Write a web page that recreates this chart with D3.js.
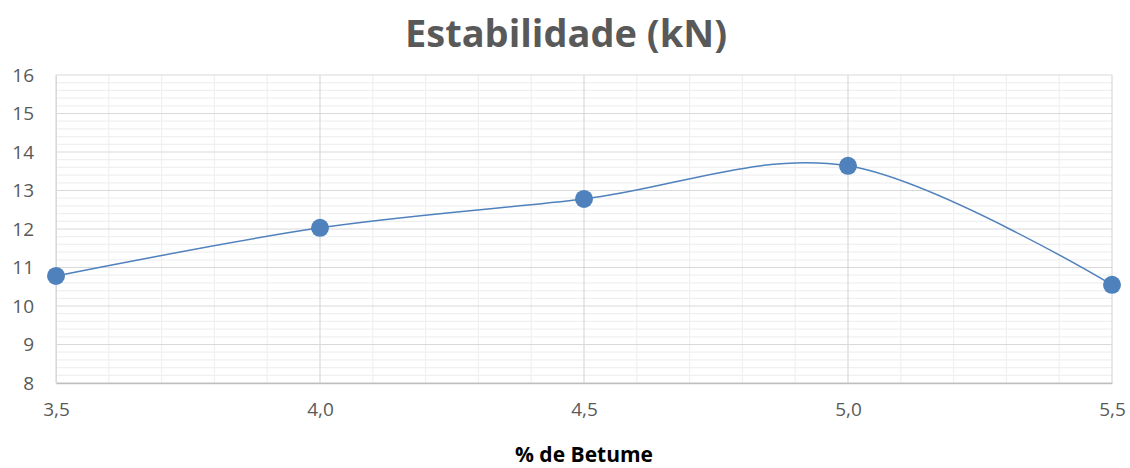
<!DOCTYPE html>
<html>
<head>
<meta charset="utf-8">
<script src="https://cdn.jsdelivr.net/npm/d3@7"></script>
<style>
  html, body { margin: 0; padding: 0; background: #fff; }
  svg { display: block; }
  svg text { font-family: "Open Sans", "Liberation Sans", sans-serif; }
</style>
</head>
<body>
<svg id="chart" width="1130" height="468"></svg>
<script>
// Bitumen content (%) and Marshall stability (kN)
const betume = [3.5, 4.0, 4.5, 5.0, 5.5];
const estabilidade = [10.78, 12.03, 12.78, 13.64, 10.55];
const xTicks = [3.5, 4.0, 4.5, 5.0, 5.5];
const yTicks = [8, 9, 10, 11, 12, 13, 14, 15, 16];

const svg = d3.select("#chart");
const margin = { left: 56, right: 18, top: 75, bottom: 85 };
const W = 1130, H = 468;

const x = d3.scaleLinear().domain([3.5, 5.5]).range([margin.left, W - margin.right]);
const y = d3.scaleLinear().domain([8, 16]).range([H - margin.bottom, margin.top]);

const grid = svg.append("g");

// minor gridlines
const xMinor = d3.range(35, 56, 1).map(v => v / 10).filter(v => Math.round(v * 10) % 5 !== 0);
const yMinor = d3.range(40, 81, 1).map(v => v / 5).filter(v => Math.round(v * 5) % 5 !== 0);
grid.selectAll(".xm").data(xMinor).join("line")
  .attr("x1", d => x(d)).attr("x2", d => x(d))
  .attr("y1", y(8)).attr("y2", y(16))
  .attr("stroke", "#f0f0f0").attr("stroke-width", 1.2);
grid.selectAll(".ym").data(yMinor).join("line")
  .attr("x1", x(3.5)).attr("x2", x(5.5))
  .attr("y1", d => y(d)).attr("y2", d => y(d))
  .attr("stroke", "#f0f0f0").attr("stroke-width", 1.2);

// major gridlines
grid.selectAll(".xM").data(xTicks).join("line")
  .attr("x1", d => x(d)).attr("x2", d => x(d))
  .attr("y1", y(8)).attr("y2", y(16))
  .attr("stroke", "#d9d9d9").attr("stroke-width", 1.2);
grid.selectAll(".yM").data(yTicks).join("line")
  .attr("x1", x(3.5)).attr("x2", x(5.5))
  .attr("y1", d => y(d)).attr("y2", d => y(d))
  .attr("stroke", "#d9d9d9").attr("stroke-width", 1.2);

// axes
const fmt = d => d.toFixed(1).replace(".", ",");
const xAxis = svg.append("g")
  .attr("transform", `translate(0,${y(8)})`)
  .call(d3.axisBottom(x).tickValues(xTicks).tickFormat(fmt).tickSize(0).tickPadding(20));
xAxis.select(".domain").attr("stroke", "#bfbfbf").attr("stroke-width", 1.5);
xAxis.selectAll("text").attr("fill", "#595959").attr("font-size", 19)
  .attr("font-family", "Open Sans, Liberation Sans, sans-serif");

const yAxis = svg.append("g")
  .attr("transform", `translate(${x(3.5)},0)`)
  .call(d3.axisLeft(y).tickValues(yTicks).tickFormat(d3.format("d")).tickSize(0).tickPadding(22));
yAxis.select(".domain").attr("stroke", "#d9d9d9");
yAxis.selectAll("text").attr("fill", "#595959").attr("font-size", 19)
  .attr("font-family", "Open Sans, Liberation Sans, sans-serif");
xAxis.attr("font-family", null);
yAxis.attr("font-family", null);

// smoothed series line
const pts = betume.map((b, i) => [b, estabilidade[i]]);
svg.append("path")
  .datum(pts)
  .attr("fill", "none")
  .attr("stroke", "#4f81bd")
  .attr("stroke-width", 1.5)
  .attr("d", d3.line().x(d => x(d[0])).y(d => y(d[1])).curve(d3.curveCardinal.tension(0)));

svg.selectAll(".pt").data(pts).join("circle")
  .attr("cx", d => x(d[0])).attr("cy", d => y(d[1]))
  .attr("r", 9)
  .attr("fill", "#4f81bd");

// titles
svg.append("text")
  .attr("x", 566).attr("y", 47)
  .attr("text-anchor", "middle")
  .attr("font-size", 38).attr("font-weight", "bold")
  .attr("fill", "#595959")
  .text("Estabilidade (kN)");

svg.append("text")
  .attr("x", x(4.5)).attr("y", 462)
  .attr("text-anchor", "middle")
  .attr("font-size", 21).attr("font-weight", "bold")
  .attr("fill", "#000")
  .text("% de Betume");
</script>
</body>
</html>
